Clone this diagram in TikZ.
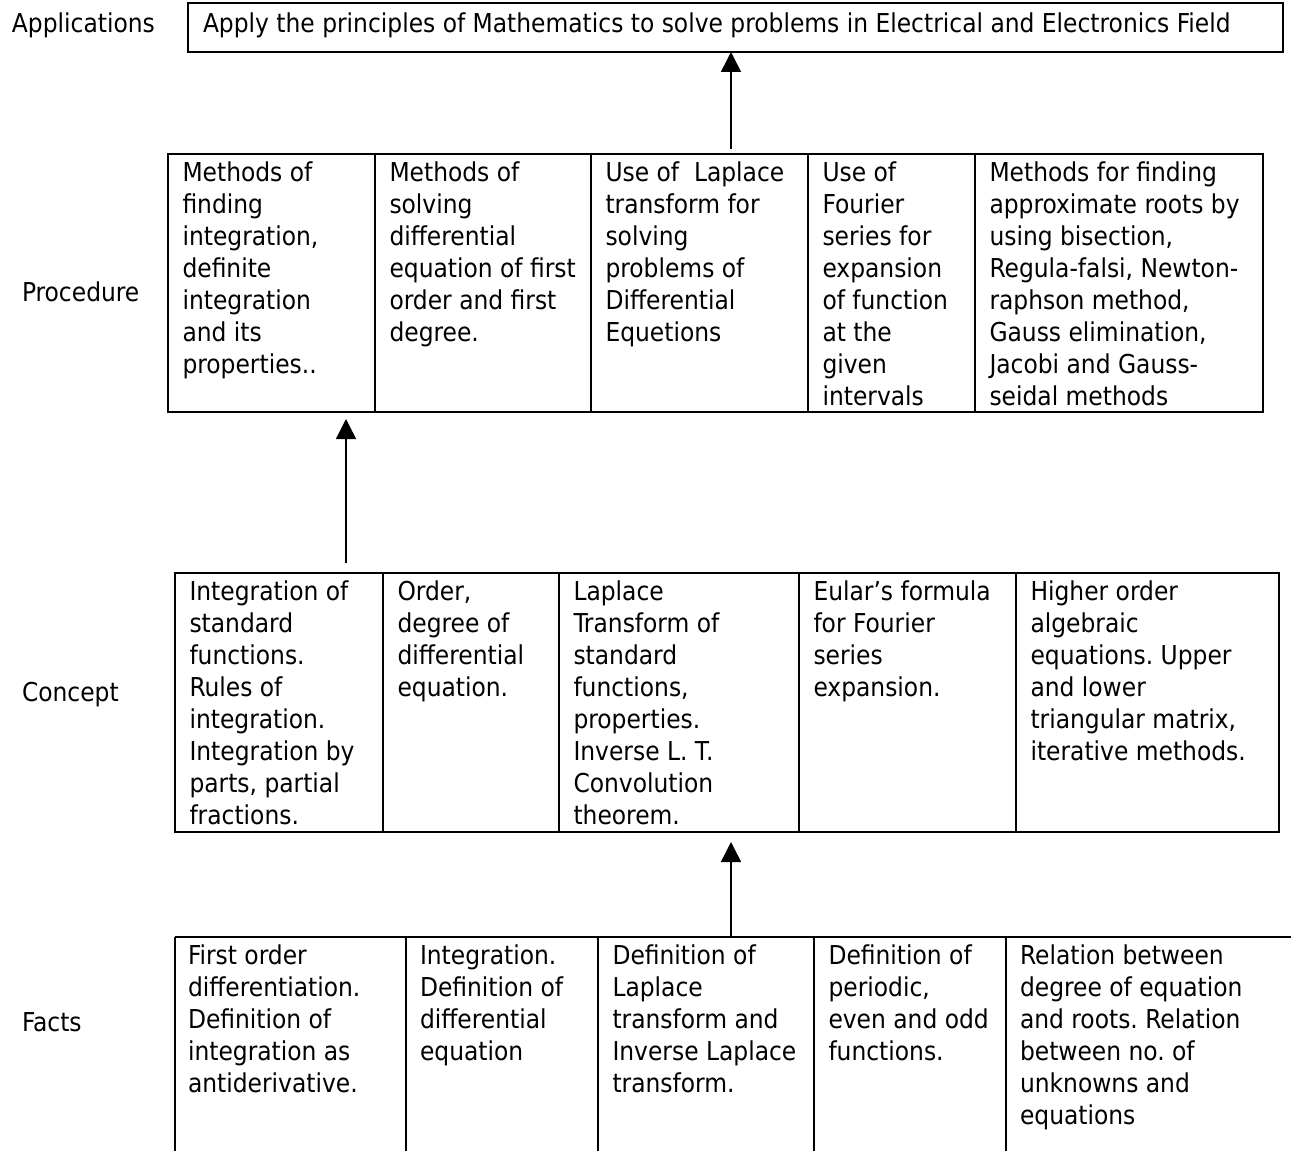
\documentclass[tikz,border=0pt]{standalone}
\usepackage{fontspec}
\setmainfont{DejaVu Sans Condensed}
\usetikzlibrary{arrows.meta,fit}
\frenchspacing
\begin{document}
\begin{tikzpicture}[x=0.75pt,y=-0.75pt,
  every node/.style={font=\fontsize{19.5}{24}\selectfont\frenchspacing, inner sep=0pt, outer sep=0pt},
  cellbox/.style={draw, line width=1.5pt, inner sep=0pt, outer sep=0pt},
  txt/.style={anchor=north west, align=left},
  lbl/.style={anchor=west},
  edge/.style={line width=1.5pt},
  arr/.style={line width=1.1pt, -{Triangle[width=15pt,length=15pt]}}]
\useasboundingbox (0,0) rectangle (1291,1151);

% Applications
\node[anchor=base west] (lapp) at (12,33) {Applications};
\node[cellbox, fit={(188,3)(1283,52)}] (app) {};
\node[anchor=base west] (tapp) at (203,33) {Apply the principles of Mathematics to solve problems in Electrical and Electronics Field};

% Procedure row
\node[lbl] (lproc) at (22,292) {Procedure};
\node[cellbox, fit={(168,154)(375,412)}] (p1) {};
\node[cellbox, fit={(375,154)(591,412)}] (p2) {};
\node[cellbox, fit={(591,154)(808,412)}] (p3) {};
\node[cellbox, fit={(808,154)(975,412)}] (p4) {};
\node[cellbox, fit={(975,154)(1263,412)}] (p5) {};
\node[txt] (tp1) at ([shift={(14.5,5)}]p1.north west) {\strut Methods of\\finding\\integration,\\definite\\integration\\and its\\properties..};
\node[txt] (tp2) at ([shift={(14.5,5)}]p2.north west) {\strut Methods of\\solving\\differential\\equation of first\\order and first\\degree.};
\node[txt] (tp3) at ([shift={(14.5,5)}]p3.north west) {\strut Use of\ \ Laplace\\transform for\\solving\\problems of\\Differential\\Equetions};
\node[txt] (tp4) at ([shift={(14.5,5)}]p4.north west) {\strut Use of\\Fourier\\series for\\expansion\\of function\\at the\\given\\intervals};
\node[txt] (tp5) at ([shift={(14.5,5)}]p5.north west) {\strut Methods for finding\\approximate roots by\\using bisection,\\Regula-falsi, Newton-\\raphson method,\\Gauss elimination,\\Jacobi and Gauss-\\seidal methods};

% Concept row
\node[lbl] (lcon) at (22,695) {Concept};
\node[cellbox, fit={(175,573)(383,832)}] (c1) {};
\node[cellbox, fit={(383,573)(559,832)}] (c2) {};
\node[cellbox, fit={(559,573)(799,832)}] (c3) {};
\node[cellbox, fit={(799,573)(1016,832)}] (c4) {};
\node[cellbox, fit={(1016,573)(1279,832)}] (c5) {};
\node[txt] (tc1) at ([shift={(14.5,5)}]c1.north west) {\strut Integration of\\standard\\functions.\\Rules of\\integration.\\Integration by\\parts, partial\\fractions.};
\node[txt] (tc2) at ([shift={(14.5,5)}]c2.north west) {\strut Order,\\degree of\\differential\\equation.};
\node[txt] (tc3) at ([shift={(14.5,5)}]c3.north west) {\strut Laplace\\Transform of\\standard\\functions,\\properties.\\Inverse L. T.\\Convolution\\theorem.};
\node[txt] (tc4) at ([shift={(14.5,5)}]c4.north west) {\strut Eular’s formula\\for Fourier\\series\\expansion.};
\node[txt] (tc5) at ([shift={(14.5,5)}]c5.north west) {\strut Higher order\\algebraic\\equations. Upper\\and lower\\triangular matrix,\\iterative methods.};

% Facts row (open at the bottom and right)
\node[lbl] (lfac) at (22,1022) {Facts};
\coordinate (f0) at (175,937);
\coordinate (f1) at (406,937);
\coordinate (f2) at (598,937);
\coordinate (f3) at (814,937);
\coordinate (f4) at (1006,937);
\coordinate (fend) at (1291,937);
\draw[edge] (f0) -- (fend);
\foreach \c in {f0,f1,f2,f3,f4} \draw[edge] (\c) -- (\c |- 0,1151);
\node[txt] (tf1) at ([shift={(13,5)}]f0) {\strut First order\\differentiation.\\Definition of\\integration as\\antiderivative.};
\node[txt] (tf2) at ([shift={(14,5)}]f1) {\strut Integration.\\Definition of\\differential\\equation};
\node[txt] (tf3) at ([shift={(14.5,5)}]f2) {\strut Definition of\\Laplace\\transform and\\Inverse Laplace\\transform.};
\node[txt] (tf4) at ([shift={(14.5,5)}]f3) {\strut Definition of\\periodic,\\even and odd\\functions.};
\node[txt] (tf5) at ([shift={(14,5)}]f4) {\strut Relation between\\degree of equation\\and roots. Relation\\between no. of\\unknowns and\\equations};

% Arrows
\coordinate (a1) at (731,149);
\draw[arr] (a1) -- (a1 |- app.south);
\coordinate (a2) at (346,563);
\draw[arr, shorten >=7pt*0.75] (a2) -- (a2 |- p1.south);
\coordinate (a3) at (731,937);
\draw[arr, shorten >=10pt*0.75] (a3) -- (a3 |- c3.south);
\end{tikzpicture}
\end{document}
